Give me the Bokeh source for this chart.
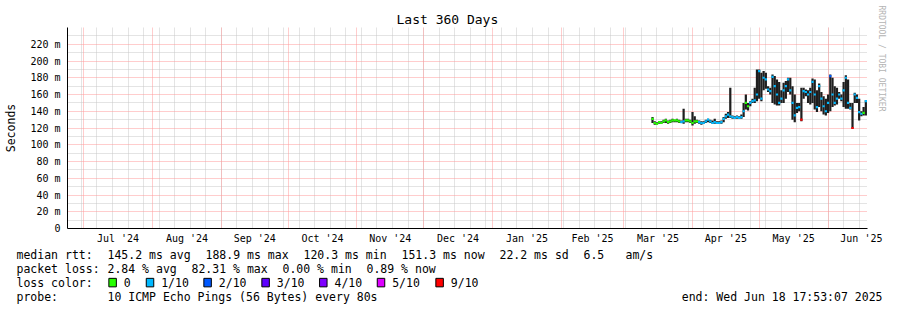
import pandas as pd
from bokeh.plotting import figure
from bokeh.models import Range1d, FixedTicker, Grid, Title, ColumnDataSource
from bokeh.embed import file_html
from bokeh.resources import INLINE
from bokeh.core.properties import value

# ---------------- data ----------------
title_text = "Last 360 Days"
window_start = "2024-06-23 17:53:07"
window_end = "2025-06-18 17:53:07"

first_day = "2025-03-14"   # one value per day from here on
median_ms = [131, 126, 125, 127, 126, 128, 129, 127, 128, 129, 129, 129, 128,
             127, 128, 129, 129, 128, 126, 128, 128, 127, 126, 126, 128, 130,
             128, 126, 127, 126, 126, 127, 131, 134, 136, 134, 133, 132, 133,
             132, 133, 140, 150, 146, 150, 152, 153, 160, 188, 155, 180, 178,
             166, 164, 181, 170, 160, 150, 155, 165, 170, 178, 165, 150, 135,
             144, 145, 130, 164, 163, 160, 163, 175, 160, 145, 170, 155, 146,
             140, 150, 182, 160, 150, 155, 160, 155, 165, 180, 150, 144, 120,
             160, 156, 139, 137, 138, 152]
smoke_lo_ms = [126, 124, 124, 125, 125, 126, 126, 125, 126, 127, 127, 127, 126,
               126, 125, 127, 127, 126, 123, 125, 126, 125, 124, 125, 126, 127,
               126, 125, 125, 125, 125, 125, 127, 131, 132, 132, 131, 131, 131,
               131, 131, 133, 142, 141, 146, 150, 150, 152, 155, 152, 165, 167,
               163, 160, 150, 148, 147, 147, 150, 150, 155, 163, 160, 130, 127,
               138, 140, 128, 155, 158, 150, 148, 150, 142, 139, 145, 140, 136,
               135, 138, 140, 145, 147, 148, 155, 152, 145, 143, 143, 142, 119,
               150, 150, 129, 134, 135, 135]
smoke_hi_ms = [133, 128, 127, 128, 128, 130, 131, 129, 130, 131, 130, 131, 130,
               129, 143, 131, 131, 130, 139, 134, 130, 129, 128, 128, 130, 131,
               130, 129, 131, 128, 128, 129, 133, 137, 139, 168, 135, 134, 135,
               134, 136, 150, 160, 150, 152, 155, 168, 190, 190, 186, 188, 186,
               170, 168, 184, 182, 178, 175, 165, 174, 176, 180, 180, 170, 160,
               150, 150, 168, 168, 166, 165, 168, 179, 178, 165, 173, 163, 158,
               155, 160, 184, 180, 170, 168, 163, 160, 175, 183, 178, 150, 150,
               162, 160, 155, 140, 145, 153]
lost_pings = [0] * 13 + [1, 1] + [0] * 6 + [1] * 21 + [0, 0] + [1] * 23 + [9] + \
             [1] * 12 + [2] + [1] * 9 + [9] + [1] * 4 + [0] + [1]

loss_labels = ["0", "1/10", "2/10", "3/10", "4/10", "5/10", "9/10"]
loss_colors = ["#26ff00", "#00b8ff", "#0059ff", "#5e00ff", "#7e00ff", "#dd00ff", "#ff0000"]

month_starts = ["2024-07-01", "2024-08-01", "2024-09-01", "2024-10-01", "2024-11-01",
                "2024-12-01", "2025-01-01", "2025-02-01", "2025-03-01", "2025-04-01",
                "2025-05-01", "2025-06-01", "2025-07-01"]
month_labels = ["Jul '24", "Aug '24", "Sep '24", "Oct '24", "Nov '24", "Dec '24",
                "Jan '25", "Feb '25", "Mar '25", "Apr '25", "May '25", "Jun '25"]

y_ticks = [0, 20, 40, 60, 80, 100, 120, 140, 160, 180, 200, 220]
y_tick_labels = ["0", "20 m", "40 m", "60 m", "80 m", "100 m", "120 m", "140 m",
                 "160 m", "180 m", "200 m", "220 m"]
y_axis_label = "Seconds"
credit_text = "RRDTOOL / TOBI OETIKER"

rtt_stats = ["median rtt:", "145.2 ms avg", "188.9 ms max", "120.3 ms min",
             "151.3 ms now", "22.2 ms sd", "6.5", "am/s"]
rtt_cols = [0, 13, 27, 41, 55, 69, 81, 87]
loss_stats = ["packet loss:", "2.84 % avg", "82.31 % max", "0.00 % min", "0.89 % now"]
loss_cols = [0, 13, 25, 38, 50]
loss_title = "loss color:"
probe_title = "probe:"
probe_text = "10 ICMP Echo Pings (56 Bytes) every 80s"
end_text = "end: Wed Jun 18 17:53:07 2025"

# ---------------- layout constants ----------------
W, H_MAIN = 897, 246
H_LEG = 310 - H_MAIN
FL, FR, FT, FB = 67, 868, 27, 229
Y_MAX = 240
FONT = "DejaVu Sans Mono"
MAJOR_GRID = "#ff9a9a"
MINOR_GRID = "#c8c8c8"


def ms(ts):
    return int(pd.Timestamp(ts).value // 10**6)


x_start, x_end = ms(window_start), ms(window_end)
DAY = 86400000


def loss_color(n):
    idx = n if n <= 4 else (5 if n <= 8 else 6)
    return loss_colors[idx]


days = [ms(d) for d in pd.date_range(first_day, periods=len(median_ms), freq="D")]

p = figure(width=W, height=H_MAIN, x_range=Range1d(x_start, x_end), y_range=Range1d(0, Y_MAX),
           output_backend="svg", toolbar_location=None,
           min_border_left=FL, min_border_right=W - FR, min_border_top=FT,
           min_border_bottom=H_MAIN - FB)
p.outline_line_color = None
p.background_fill_color = "white"
p.border_fill_color = "white"
p.xgrid.visible = False
p.ygrid.visible = False

# title above the plot
p.title.text = title_text
p.title.align = "left"
p.title.offset = 329
p.title.text_font = FONT
p.title.text_font_size = "13px"
p.title.text_font_style = "normal"
p.title.text_color = "black"
p.title.standoff = 2

# credit on the right side
p.add_layout(Title(text=credit_text, align="left", offset=-22, text_font=FONT,
                   text_font_size="8px", text_font_style="normal", text_color="#b4b4b4",
                   standoff=19), "right")

# grids
week_ticks = [ms(d) for d in pd.date_range("2024-06-30", window_end, freq="7D")]
month_ticks = [ms(d) for d in month_starts]
minor_y = sorted(set([v + 10 for v in y_ticks]))
p.add_layout(Grid(dimension=0, ticker=FixedTicker(ticks=week_ticks),
                  grid_line_color=MINOR_GRID, grid_line_dash="1 1"))
p.add_layout(Grid(dimension=1, ticker=FixedTicker(ticks=minor_y),
                  grid_line_color=MINOR_GRID, grid_line_dash="1 1"))
p.add_layout(Grid(dimension=0, ticker=FixedTicker(ticks=month_ticks),
                  grid_line_color=MAJOR_GRID, grid_line_dash="1 1"))
p.add_layout(Grid(dimension=1, ticker=FixedTicker(ticks=y_ticks[1:]),
                  grid_line_color=MAJOR_GRID, grid_line_dash="1 1"))

# axes
month_mids = [(month_ticks[i] + month_ticks[i + 1]) // 2 for i in range(len(month_labels))]
p.xaxis.ticker = FixedTicker(ticks=month_mids)
p.xaxis.major_label_overrides = {t: l for t, l in zip(month_mids, month_labels)}
p.yaxis.ticker = FixedTicker(ticks=y_ticks)
p.yaxis.major_label_overrides = {t: l for t, l in zip(y_ticks, y_tick_labels)}
for ax in (p.xaxis[0], p.yaxis[0]):
    ax.axis_line_color = "black"
    ax.major_tick_line_color = None
    ax.minor_tick_line_color = None
    ax.major_tick_out = 0
    ax.major_tick_in = 0
    ax.minor_tick_out = 0
    ax.minor_tick_in = 0
    ax.major_label_text_font = FONT
    ax.major_label_text_font_size = "10px"
    ax.major_label_text_color = "black"
p.xaxis.major_label_standoff = 4
p.yaxis.major_label_standoff = 7
p.yaxis.axis_label = y_axis_label
p.yaxis.axis_label_text_font = FONT
p.yaxis.axis_label_text_font_size = "11.5px"
p.yaxis.axis_label_text_font_style = "normal"
p.yaxis.axis_label_text_color = "black"
p.yaxis.axis_label_standoff = 9

# smoke and median
src = ColumnDataSource(dict(
    left=[d - 0.5 * DAY for d in days], right=[d + 0.5 * DAY for d in days],
    lo=smoke_lo_ms, hi=smoke_hi_ms,
    med=median_ms, color=[loss_color(n) for n in lost_pings]))
p.quad(left="left", right="right", bottom="lo", top="hi", source=src,
       fill_color="#1e1e1e", line_color=None)
p.segment(x0="left", y0="med", x1="right", y1="med", source=src,
          line_color="color", line_width=2.2)

# ---------------- legend panel (separate root, pixel coordinates) ----------------
lg = figure(width=W, height=H_LEG, x_range=Range1d(0, W), y_range=Range1d(H_LEG, 0),
            output_backend="svg", toolbar_location=None, min_border=0,
            x_axis_location=None, y_axis_location=None)
lg.outline_line_color = None
lg.grid.visible = False
lg.background_fill_color = "white"
lg.border_fill_color = "white"

CW = 7.0
X0 = 16
ROWS = [r - H_MAIN for r in (254.3, 268.3, 282.3, 296.0)]
tx, ty, tt = [], [], []
for s, c in zip(rtt_stats, rtt_cols):
    tx.append(X0 + c * CW); ty.append(ROWS[0]); tt.append(s)
for s, c in zip(loss_stats, loss_cols):
    tx.append(X0 + c * CW); ty.append(ROWS[1]); tt.append(s)
tx.append(X0); ty.append(ROWS[2]); tt.append(loss_title)
sw_x = [108.3, 145.7, 203.3, 261.3, 319.0, 376.7, 435.3]
for sx, lab in zip(sw_x, loss_labels):
    tx.append(sx + 15); ty.append(ROWS[2]); tt.append(lab)
tx.append(X0); ty.append(ROWS[3]); tt.append(probe_title)
tx.append(X0 + 13 * CW); ty.append(ROWS[3]); tt.append(probe_text)
lg.text(x=tx, y=ty, text=tt, text_font=value(FONT), text_font_size=value("11.5px"),
        text_baseline="middle", text_align="left", text_color="black")
lg.text(x=[882], y=[ROWS[3]], text=[end_text], text_font=value(FONT),
        text_font_size=value("11.5px"), text_baseline="middle", text_align="right",
        text_color="black")
lg.rect(x=[sx + 3.8 for sx in sw_x], y=[ROWS[2] - 0.2] * len(sw_x), width=7.5, height=8.5,
        fill_color=loss_colors, line_color="black", line_width=1)

open("out.html", "w").write(file_html([p, lg], INLINE))
